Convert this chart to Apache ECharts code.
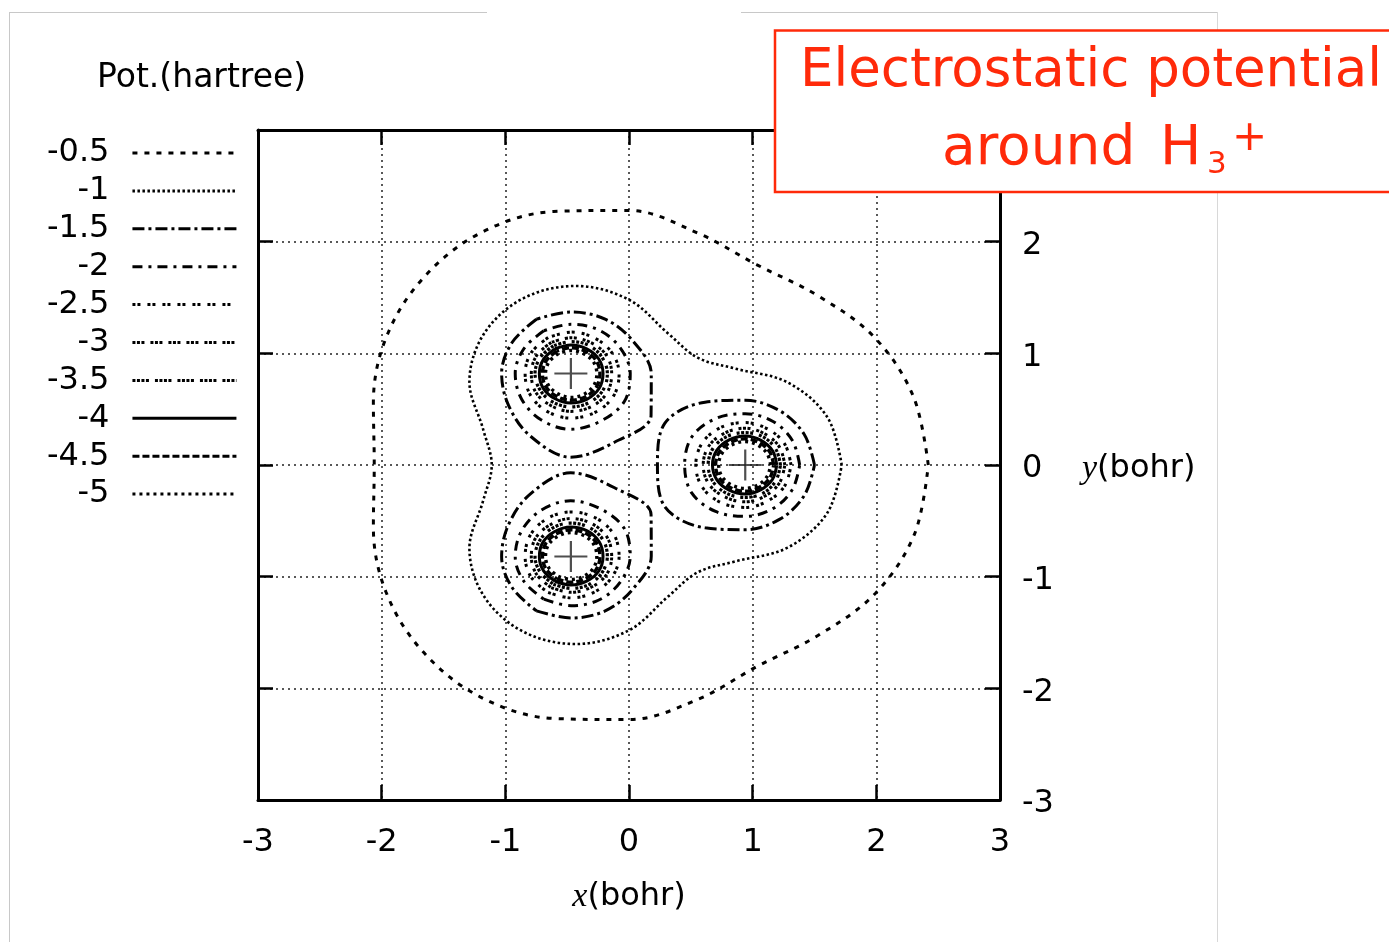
<!DOCTYPE html>
<html>
<head>
<meta charset="utf-8">
<script src="https://cdn.jsdelivr.net/npm/echarts@6/dist/echarts.min.js"></script>
<style>
  html, body { margin: 0; padding: 0; background: #fff; }
  #chart { width: 1389px; height: 942px; }
</style>
</head>
<body>
<div id="chart"></div>
<script>
// Contour levels of the electrostatic potential (hartree)
const levelNames = ['-0.5', '-1', '-1.5', '-2', '-2.5', '-3', '-3.5', '-4', '-4.5', '-5'];
const axisTicks = [-3, -2, -1, 0, 1, 2, 3];

// Proton positions (bohr)
const nucleusX = [0.94, -0.47, -0.47];
const nucleusY = [0.00, 0.82, -0.82];

// The two outermost levels enclose the whole molecule:
// radius (bohr) from the molecular centre, every 15 degrees counter-clockwise from +x
const outerStepDeg = 15;
const radiusLevel05 = [2.42, 2.38, 2.29, 2.15, 2.07, 2.15, 2.28, 2.35,
                       2.40, 2.36, 2.27, 2.14, 2.06, 2.14, 2.27, 2.36,
                       2.40, 2.35, 2.28, 2.17, 2.08, 2.16, 2.30, 2.39];
const radiusLevel1  = [1.72, 1.66, 1.48, 1.22, 1.11, 1.22, 1.48, 1.66,
                       1.72, 1.66, 1.49, 1.22, 1.11, 1.22, 1.49, 1.66,
                       1.72, 1.66, 1.48, 1.22, 1.11, 1.22, 1.48, 1.66];

// The other levels close around each proton: radius (bohr) every 30 degrees,
// from the outward direction (0) round to the side facing the centre (180);
// the other half of each ring mirrors it
const innerStepDeg = 30;
const radiusLevel15 = [0.56, 0.55, 0.56, 0.58, 0.65, 0.75, 0.71];
const radiusLevel2  = [0.44, 0.44, 0.45, 0.46, 0.48, 0.50, 0.49];
const radiusLevel25 = [0.37, 0.37, 0.37, 0.38, 0.39, 0.40, 0.40];
const radiusLevel3  = [0.32, 0.32, 0.32, 0.33, 0.33, 0.34, 0.34];
const radiusLevel35 = [0.285, 0.285, 0.29, 0.29, 0.295, 0.30, 0.30];
const radiusLevel4  = [0.255, 0.255, 0.255, 0.26, 0.26, 0.265, 0.265];
const radiusLevel45 = [0.23, 0.23, 0.23, 0.235, 0.235, 0.24, 0.24];
const radiusLevel5  = [0.205, 0.205, 0.205, 0.21, 0.21, 0.215, 0.215];
const innerRadii = [radiusLevel15, radiusLevel2, radiusLevel25, radiusLevel3,
                    radiusLevel35, radiusLevel4, radiusLevel45, radiusLevel5];

// Line style of each level, in the order of levelNames
const levelDash = [
  [5, 7],
  [2.5, 2.5],
  [12, 4, 3, 4],
  [10, 6, 3, 6],
  [3, 2, 3, 7],
  [3, 1.5, 3, 1.5, 3, 6],
  [3, 1.5, 3, 1.5, 3, 1.5, 3, 6],
  'solid',
  [7, 3],
  [3, 4]
];
const levelWidth = [3, 2.6, 3, 3, 3, 3, 3.2, 3, 3.4, 3.4];

const FONT = '"DejaVu Sans", "Liberation Sans", sans-serif';
const RED = '#ff2a0a';

// Closed loop of [x, y] points from radii taken at equal angle steps round (cx, cy)
function closedRing(cx, cy, radii, startDeg, stepDeg) {
  const pts = radii.map(function (r, k) {
    const a = (startDeg + k * stepDeg) * Math.PI / 180;
    return [cx + r * Math.cos(a), cy + r * Math.sin(a)];
  });
  pts.push(pts[0]);
  return pts;
}

function contourSeries(levelIndex, points) {
  return {
    type: 'line',
    name: levelNames[levelIndex],
    data: points,
    smooth: 0.35,
    symbol: 'none',
    showSymbol: false,
    silent: true,
    animation: false,
    z: 3,
    lineStyle: {
      color: '#000',
      width: levelWidth[levelIndex],
      type: levelDash[levelIndex],
      cap: 'butt'
    }
  };
}

const series = [];
series.push(contourSeries(0, closedRing(0, 0, radiusLevel05, 0, outerStepDeg)));
series.push(contourSeries(1, closedRing(0, 0, radiusLevel1, 0, outerStepDeg)));
innerRadii.forEach(function (half, j) {
  const full = half.concat(half.slice(1, -1).reverse());
  nucleusX.forEach(function (nx, n) {
    const outward = Math.atan2(nucleusY[n], nx) * 180 / Math.PI;
    series.push(contourSeries(j + 2, closedRing(nx, nucleusY[n], full, outward, innerStepDeg)));
  });
});

// Proton markers
series.push({
  type: 'scatter',
  name: 'H',
  data: nucleusX.map(function (x, i) { return [x, nucleusY[i]]; }),
  symbol: 'path://M14,0h2v30h-2zM0,14h30v2h-30z',
  symbolSize: [33, 31],
  itemStyle: { color: '#222' },
  silent: true,
  animation: false,
  z: 5
});

const frameAxis = {
  type: 'value',
  min: axisTicks[0],
  max: axisTicks[axisTicks.length - 1],
  interval: 1,
  axisLine: { onZero: false, lineStyle: { color: '#000', width: 3 } },
  axisTick: { inside: true, length: 15, lineStyle: { color: '#000', width: 2.5 } },
  splitLine: { show: false }
};
const gridLine = { show: true, lineStyle: { color: '#222', width: 1.5, type: [2, 4] } };
const tickLabel = { fontSize: 32, color: '#000', fontFamily: FONT };
const nameRich = {
  i: { fontFamily: '"Liberation Serif", "DejaVu Serif", serif', fontStyle: 'italic', fontSize: 34, color: '#000' },
  n: { fontFamily: FONT, fontSize: 32, color: '#000' }
};

const option = {
  backgroundColor: '#fff',
  animation: false,
  title: {
    text: 'Pot.(hartree)',
    left: 97,
    top: 62,
    padding: 0,
    textStyle: { fontSize: 33, fontWeight: 'normal', color: '#000', fontFamily: FONT }
  },
  legend: {
    data: levelNames,
    orient: 'vertical',
    left: 47,
    top: 137,
    padding: 0,
    itemGap: 5.9,
    itemWidth: 104,
    itemHeight: 10,
    align: 'right',
    selectedMode: false,
    itemStyle: { opacity: 0 },
    lineStyle: { width: 3 },
    textStyle: { fontSize: 32, color: '#000', fontFamily: FONT, padding: [0, 18, 0, 0] }
  },
  grid: { left: 258, right: 389, top: 130, bottom: 142 },
  xAxis: [
    Object.assign({}, frameAxis, {
      position: 'bottom',
      axisLabel: Object.assign({ margin: 27 }, tickLabel),
      splitLine: gridLine,
      name: '{i|x}{n|(bohr)}',
      nameLocation: 'middle',
      nameGap: 80,
      nameTextStyle: { rich: nameRich }
    }),
    Object.assign({}, frameAxis, { position: 'top', axisLabel: { show: false } })
  ],
  yAxis: [
    Object.assign({}, frameAxis, {
      position: 'right',
      axisLabel: {
        margin: 22,
        formatter: function (v) { return '{t|' + v + '}'; },
        rich: { t: Object.assign({ padding: [8, 0, 0, 0] }, tickLabel) }
      },
      splitLine: gridLine,
      name: '{i|y}{n|(bohr)}',
      nameLocation: 'middle',
      nameRotate: 0,
      nameGap: 82,
      nameTextStyle: { rich: nameRich, padding: [8, 0, 0, 0] }
    }),
    Object.assign({}, frameAxis, { position: 'left', axisLabel: { show: false } })
  ],
  series: series,
  graphic: [
    { type: 'line', silent: true, shape: { x1: 9, y1: 12.5, x2: 487, y2: 12.5 }, style: { stroke: '#c8c8c8', lineWidth: 1 } },
    { type: 'line', silent: true, shape: { x1: 741, y1: 12.5, x2: 1217, y2: 12.5 }, style: { stroke: '#c8c8c8', lineWidth: 1 } },
    { type: 'line', silent: true, shape: { x1: 9.5, y1: 12, x2: 9.5, y2: 942 }, style: { stroke: '#c8c8c8', lineWidth: 1 } },
    { type: 'line', silent: true, shape: { x1: 1217.5, y1: 12, x2: 1217.5, y2: 942 }, style: { stroke: '#d8d8d8', lineWidth: 1 } },
    {
      type: 'group',
      z: 100,
      children: [
        { type: 'rect', z: 100, shape: { x: 775, y: 30.5, width: 640, height: 161.5 },
          style: { fill: '#fff', stroke: RED, lineWidth: 2.5 } },
        { type: 'text', z: 101, x: 800, y: 72,
          style: { text: 'Electrostatic potential', font: '53px ' + FONT, fill: RED, verticalAlign: 'middle' } },
        { type: 'text', z: 101, x: 942, y: 150,
          style: { text: 'around', font: '55px ' + FONT, fill: RED, verticalAlign: 'middle' } },
        { type: 'text', z: 101, x: 1160, y: 150,
          style: { text: 'H', font: '55px ' + FONT, fill: RED, verticalAlign: 'middle' } },
        { type: 'text', z: 101, x: 1207, y: 165,
          style: { text: '3', font: '31px ' + FONT, fill: RED, verticalAlign: 'middle' } },
        { type: 'text', z: 101, x: 1232, y: 139,
          style: { text: '+', font: '42px ' + FONT, fill: RED, verticalAlign: 'middle' } }
      ]
    }
  ]
};

const chart = echarts.init(document.getElementById('chart'), null, { renderer: 'canvas' });
chart.setOption(option);
</script>
</body>
</html>
